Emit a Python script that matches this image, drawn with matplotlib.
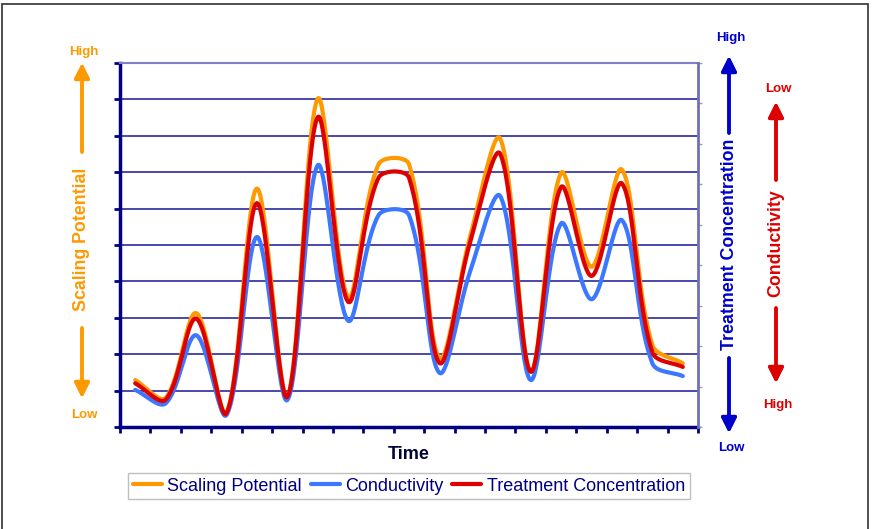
import numpy as np
from matplotlib import pyplot as plt
from matplotlib.patches import Rectangle

plt.rcParams['font.family'] = ['Liberation Sans', 'DejaVu Sans']

# category positions (19 time steps)
n_points = 19
scaling = [1.29, 0.80, 3.13, 0.38, 6.55, 0.83, 9.02, 3.57, 7.22, 7.22,
           1.89, 5.20, 7.92, 1.52, 6.98, 4.40, 7.07, 2.25, 1.75]
conductivity = [1.02, 0.65, 2.52, 0.33, 5.22, 0.74, 7.19, 2.92, 5.82, 5.82,
                1.49, 4.25, 6.34, 1.29, 5.59, 3.51, 5.68, 1.75, 1.40]
treatment = [1.20, 0.75, 2.98, 0.38, 6.15, 0.83, 8.51, 3.44, 6.85, 6.85,
             1.76, 5.05, 7.50, 1.52, 6.59, 4.15, 6.69, 2.05, 1.65]

series = [
    ('Scaling Potential', scaling, '#ff9900'),
    ('Conductivity', conductivity, '#3b78ff'),
    ('Treatment Concentration', treatment, '#dd0000'),
]

# pixel size of one unit along x and y (for chord lengths of the smoothing)
PX_X, PX_Y = 30.4, 36.4


def smooth(x, y, steps=40):
    # excel-like smoothed line: bezier segments, tangents scaled by chord length
    pts = np.column_stack([np.asarray(x, float) * PX_X, np.asarray(y, float) * PX_Y])
    ext = np.vstack([pts[0], pts, pts[-1]])
    t = np.linspace(0, 1, steps)[:, None]
    out = []
    for i in range(1, len(ext) - 2):
        p0, p1, p2, p3 = ext[i - 1], ext[i], ext[i + 1], ext[i + 2]
        d01 = np.hypot(*(p1 - p0))
        d12 = np.hypot(*(p2 - p1))
        d23 = np.hypot(*(p3 - p2))
        f1 = d12 / (d01 + d12) if d01 + d12 > 0 else 0
        f2 = d12 / (d12 + d23) if d12 + d23 > 0 else 0
        c1 = p1 + (p2 - p0) * f1 / 3
        c2 = p2 - (p3 - p1) * f2 / 3
        b = (1 - t) ** 3 * p1 + 3 * (1 - t) ** 2 * t * c1 + 3 * (1 - t) * t ** 2 * c2 + t ** 3 * p2
        out.append(b)
    b = np.vstack(out)
    return b[:, 0] / PX_X, b[:, 1] / PX_Y


W, H = 873, 529
fig = plt.figure(figsize=(W / 100, H / 100), dpi=100)
fig.patch.set_facecolor('white')
ax = fig.add_axes([120 / W, 1 - 427 / H, 578 / W, 364 / H])

navy = '#000080'
x = np.arange(n_points) + 0.5
for name, vals, color in series:
    sx, sy = smooth(x, vals)
    ax.plot(sx, sy, color=color, lw=3, label=name, solid_capstyle='round', zorder=3)

ax.set_xlim(0, n_points)
ax.set_ylim(0, 10)
ax.set_yticks(range(11))
ax.set_xticks(range(n_points + 1))
ax.set_xticklabels([])
ax.set_yticklabels([])
ax.tick_params(axis='both', direction='out', length=4, width=2, color=navy)
for y in range(1, 10):
    ax.axhline(y, color='#2a2aa0', lw=1.2, zorder=1)
ax.spines['left'].set_color(navy)
ax.spines['left'].set_linewidth(2.5)
ax.spines['bottom'].set_color(navy)
ax.spines['bottom'].set_linewidth(2.5)
ax.spines['top'].set_color('#8080c8')
ax.spines['top'].set_linewidth(1.5)
ax.spines['right'].set_visible(False)

ax2 = ax.twinx()
ax2.set_ylim(0, 9)
ax2.set_yticks(range(10))
ax2.set_yticklabels([])
ax2.tick_params(axis='y', direction='out', length=3, width=1, color='#a0a0a0')
ax2.spines['right'].set_color('#7070b8')
ax2.spines['right'].set_linewidth(2)
for s in ['left', 'top', 'bottom']:
    ax2.spines[s].set_visible(False)

ax.set_xlabel('Time', fontsize=13, fontweight='bold', color='#000033', labelpad=6)

leg = ax.legend(loc='upper center', bbox_to_anchor=(0.5, -0.102), ncol=3, frameon=True,
                fancybox=False, edgecolor='#b0b0b0', fontsize=13, handlelength=1.6,
                handletextpad=0.3, columnspacing=0.5, borderpad=0.25)
for t in leg.get_texts():
    t.set_color(navy)


def fp(px, py):
    return (px / W, 1 - py / H)


def side_label(xc, y_top, y_bot, y_text_top, y_text_bot, text, color, hi, lo, hi_y, lo_y):
    fig.text(*fp(xc, (y_text_top + y_text_bot) / 2), text, rotation=90, ha='center', va='center',
             fontsize=12.8, fontweight='bold', color=color)
    arrow = dict(arrowstyle='-|>,head_width=0.45,head_length=0.9', color=color, lw=2.5,
                 shrinkA=0, shrinkB=0)
    fig.add_artist(plt.annotate('', xy=fp(xc, y_top), xytext=fp(xc, y_text_top - 6),
                                xycoords='figure fraction', arrowprops=arrow))
    fig.add_artist(plt.annotate('', xy=fp(xc, y_bot), xytext=fp(xc, y_text_bot + 8),
                                xycoords='figure fraction', arrowprops=arrow))
    fig.text(*fp(xc + 2, hi_y), hi, ha='center', va='center', fontsize=9.5, fontweight='bold', color=color)
    fig.text(*fp(xc + 2, lo_y), lo, ha='center', va='center', fontsize=9.5, fontweight='bold', color=color)


side_label(82, 63, 398, 158, 320, 'Scaling Potential', '#ff9900', 'High', 'Low', 52, 415)
side_label(729, 56, 433, 139, 350, 'Treatment Concentration', '#0000cc', 'High', 'Low', 38, 448)
side_label(776, 102, 383, 186, 300, 'Conductivity', '#dd0000', 'Low', 'High', 89, 405)

# outer frame
fig.add_artist(Rectangle((2 / W, -0.01), (868 - 2) / W, 1 - 4 / H + 0.01, transform=fig.transFigure,
                         fill=False, edgecolor='#303030', lw=1.2))

fig.savefig('out.png', dpi=100)
